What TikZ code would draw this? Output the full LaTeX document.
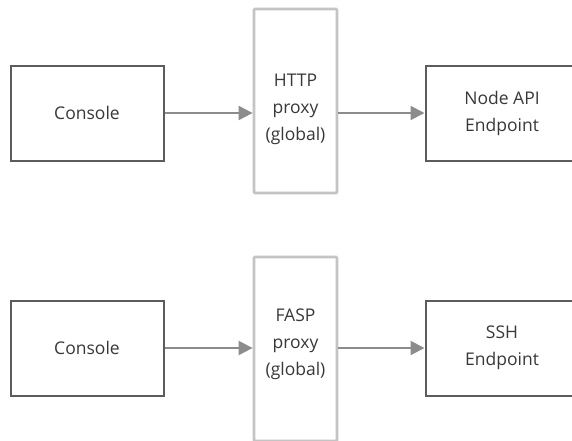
\documentclass[tikz,border=0pt]{standalone}
\usepackage{fontspec}
\setmainfont{Open Sans}
\usetikzlibrary{arrows.meta}
\definecolor{boxline}{HTML}{5C5C5C}
\definecolor{proxyline}{HTML}{C4C4C4}
\definecolor{arrowc}{HTML}{8C8C8C}
\definecolor{txtc}{HTML}{383838}
\tikzset{
  endbox/.style={draw=boxline, line width=2pt, minimum width=153pt, minimum height=95pt, inner sep=0pt, text=txtc, align=center, font=\fontsize{17.5}{27}\selectfont},
  proxybox/.style={draw=proxyline, line width=2.8pt, rounded corners=1pt, minimum width=83pt, minimum height=184pt, inner sep=0pt},
  ptext/.style={text=txtc, align=center, inner sep=0pt, font=\fontsize{17.5}{27}\selectfont},
  flow/.style={draw=arrowc, line width=2pt, -{Triangle[length=14pt,width=14pt]}, shorten >=0pt}
}
\begin{document}
\begin{tikzpicture}[x=1pt,y=-1pt]
\useasboundingbox (0,0) rectangle (572,440);
\clip (0,0) rectangle (572,440);
% top row
\node[endbox] (c1) at (87,113) {Console};
\node[proxybox] (p1) at (295.5,101) {};
\node[ptext] (p1t) at (295.5,109) {HTTP\\proxy\\(global)};
\node[endbox] (e1) at (502,113) {Node API\\Endpoint};
\draw[flow] (c1.east) -- (c1.east -| p1.west);
\draw[flow] (p1.east |- e1.west) -- (e1.west);
% bottom row
\node[endbox] (c2) at (87,348) {Console};
\node[proxybox] (p2) at (295.5,349) {};
\node[ptext] (p2t) at (295.5,344) {FASP\\proxy\\(global)};
\node[endbox] (e2) at (502,348) {SSH\\Endpoint};
\draw[flow] (c2.east) -- (c2.east -| p2.west);
\draw[flow] (p2.east |- e2.west) -- (e2.west);
\end{tikzpicture}
\end{document}
